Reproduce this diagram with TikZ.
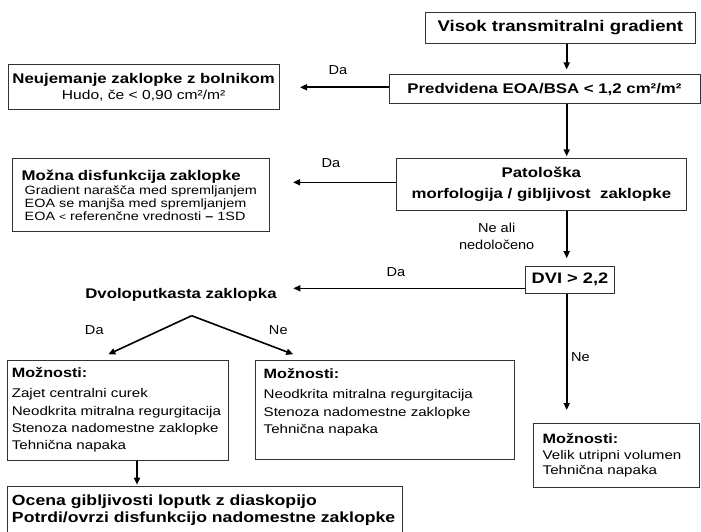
\documentclass[tikz,border=0pt]{standalone}
\usepackage{fontspec}
\setmainfont{Liberation Sans}[FakeStretch=1.2]
\newfontfamily\lblfont{Liberation Sans}[FakeStretch=1.12]
\usetikzlibrary{arrows.meta}
\newcommand\bsz[2]{\fontsize{#1}{#2}\selectfont\bfseries}
\newcommand\nsz[2]{\fontsize{#1}{#2}\selectfont\mdseries}
\begin{document}
\begin{tikzpicture}[x=1pt,y=-1pt,
  box/.style={draw=black!80,line width=1pt,rectangle,inner sep=0pt},
  arr/.style={-{Triangle[length=7pt,width=6pt]},line width=1.6pt},
  lbl/.style={inner sep=0pt,font=\lblfont\fontsize{13}{17}\selectfont,align=center}]
\clip (0,0) rectangle (701,532);
\fill[white] (0,0) rectangle (701,532);

% boxes
\node[box,minimum width=269.3pt,minimum height=30.6pt,font=\bsz{15.5}{18}] (vis) at (560.35,28) {Visok transmitralni gradient};
\node[box,minimum width=311pt,minimum height=28.3pt,font=\bsz{14}{17}] (pred) at (544.5,89.15) {Predvidena EOA/BSA < 1,2 cm²/m²};
\node[box,minimum width=270.7pt,minimum height=45.7pt,align=center,font=\nsz{13}{15.7}] (neu) at (143.65,87.15)
  {\bsz{14}{15.7}Neujemanje zaklopke z bolnikom\\\nsz{13}{15.7}Hudo, če < 0,90 cm²/m²};
\node[box,minimum width=289.3pt,minimum height=51.7pt,align=center,font=\bsz{14}{21.7}] (pat) at (541.35,184.15)
  {Patološka\\morfologija / gibljivost\ \ zaklopke};
\node[box,minimum width=256.7pt,minimum height=73.4pt,text width=237.9pt,inner xsep=9.4pt,align=left,font=\nsz{12}{13}] (moz) at (140.65,195)
  {{\bsz{14}{14}Možna disfunkcija zaklopke}\\[1.3pt]
   \hspace*{3pt}\mbox{Gradient narašča med spremljanjem}\\
   \hspace*{3pt}\mbox{EOA se manjša med spremljanjem}\\
   \hspace*{3pt}\mbox{EOA {\fontsize{10}{10}\selectfont<} referenčne vrednosti {\bfseries –} 1SD}};
\node[box,minimum width=88.6pt,minimum height=26.3pt,font=\bsz{15.2}{17}] (dvi) at (570,279.85) {DVI > 2,2};
\node[inner sep=0pt,font=\bsz{14}{17}] (dvo) at (181,295) {Dvoloputkasta zaklopka};
\node[box,minimum width=220.7pt,minimum height=100pt,text width=211.7pt,inner xsep=4.5pt,align=left,font=\nsz{12.6}{17.3}] (opL) at (117.65,410)
  {{\bsz{13.5}{13.5}Možnosti:}\\[3pt]Zajet centralni curek\\\mbox{Neodkrita mitralna regurgitacija}\\Stenoza nadomestne zaklopke\\Tehnična napaka};
\node[box,minimum width=259pt,minimum height=99.5pt,text width=241.6pt,inner xsep=8.7pt,align=left,font=\nsz{12.6}{17.3}] (opM) at (384.5,409.75)
  {{\bsz{13.5}{13.5}Možnosti:}\\[3pt]Neodkrita mitralna regurgitacija\\Stenoza nadomestne zaklopke\\Tehnična napaka\\\mbox{}};
\node[box,minimum width=166.3pt,minimum height=64.4pt,text width=146.9pt,inner xsep=9.7pt,align=left,font=\nsz{12.6}{15.3}] (opR) at (616.15,455.5)
  {{\bsz{13.5}{13.5}Možnosti:}\\[0.7pt]Velik utripni volumen\\Tehnična napaka};
\node[box,minimum width=394.7pt,minimum height=47.3pt,text width=385.3pt,inner xsep=4.7pt,align=left,font=\bsz{14.7}{17}] (bot) at (204.65,510.35)
  {Ocena gibljivosti loputk z diaskopijo\\\mbox{Potrdi/ovrzi disfunkcijo nadomestne zaklopke}};

% labels
\node[lbl] (l1) at (338,70) {Da};
\node[lbl] (l2) at (331,163) {Da};
\node[lbl] (l3) at (496.7,236.5) {Ne ali\\nedoločeno};
\node[lbl] (l4) at (396,271.7) {Da};
\node[lbl] (l5) at (94.3,330) {Da};
\node[lbl] (l6) at (278.3,330) {Ne};
\node[lbl] (l7) at (580.5,356.7) {Ne};

% connectors
\coordinate (colx) at (566.7,0);
\draw[arr,shorten >=5pt] (vis.south -| colx) -- (pred.north -| colx);
\draw[arr,shorten >=1.5pt] (pred.south -| colx) -- (pat.north -| colx);
\draw[arr,shorten >=8pt] (pat.south -| colx) -- (dvi.north -| colx);
\coordinate (e4) at (566.7,410);
\draw[arr] (dvi.south -| colx) -- (e4);
\coordinate (e1) at (300,87.3);
\draw[arr] (pred.west |- e1) -- (e1);
\coordinate (e2) at (293,182.3);
\draw[arr] (pat.west |- e2) -- (e2);
\coordinate (e3) at (293.3,288.3);
\draw[arr] (dvi.west |- e3) -- (e3);
\coordinate (apex) at (191.7,315.7);
\coordinate (vl) at (108.3,354.3);
\coordinate (vr) at (293.3,354.3);
\draw[arr] (apex) -- (vl);
\draw[arr] (apex) -- (vr);
\coordinate (c137) at (137,0);
\draw[arr,shorten >=1.5pt] (opL.south -| c137) -- (bot.north -| c137);
\end{tikzpicture}
\end{document}
